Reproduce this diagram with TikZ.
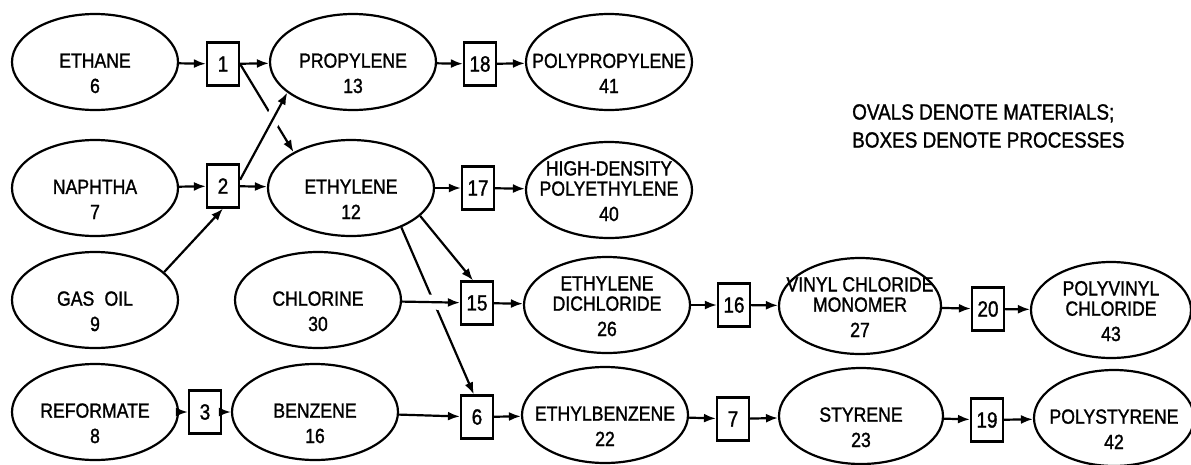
\documentclass[tikz,border=0pt]{standalone}
\usepackage{fontspec}
\setmainfont{Liberation Sans}[FakeStretch=0.86, FakeBold=1.3]
\usetikzlibrary{shapes.geometric,arrows.meta}
\tikzset{
  matl/.style = {draw, ellipse, line width=2.2pt,
    minimum width=166pt, minimum height=96pt, inner sep=0pt,
    font=\fontsize{20.5}{20}\selectfont},
  proc/.style = {draw, line width=2.2pt, minimum width=32pt,
    minimum height=43pt, inner sep=0pt, font=\fontsize{22}{20}\selectfont},
  flow/.style = {line width=2.2pt, -{Latex[length=12pt,width=9pt]}},
  gap/.style 2 args = {preaction={draw=white, -, line width=15pt,
    shorten <=#1, shorten >=#2}}, % white gap where a line passes behind
  legend/.style = {align=left, inner sep=0pt, font=\fontsize{22}{28}\selectfont}
}
% name lines above, number below the centre of the oval
\newcommand{\mtext}[2]{\smash{\makebox[0pt]{\raisebox{-31pt}{%
  \begin{tabular}[b]{@{}c@{}}#1\\[5pt]#2\end{tabular}}}}}

\begin{document}
\begin{tikzpicture}[x=1pt, y=-1pt]
\useasboundingbox (0,0) rectangle (1191,464);
% feedstocks
\node[matl] (ethane)    at (95,62)  {\mtext{ETHANE}{6}};
\node[matl] (naphtha)   at (95,188) {\mtext{NAPHTHA}{7}};
\node[matl] (gasoil)    at (95,300) {\mtext{GAS\enspace OIL}{9}};
\node[matl] (reformate) at (95,412) {\mtext{REFORMATE}{8}};
% intermediates
\node[matl] (propylene) at (353,62)  {\mtext{PROPYLENE}{13}};
\node[matl] (ethylene)  at (351,188) {\mtext{ETHYLENE}{12}};
\node[matl] (chlorine)  at (318,300) {\mtext{CHLORINE}{30}};
\node[matl] (benzene)   at (315,412) {\mtext{BENZENE}{16}};
\node[matl] (edc)       at (607,305) {\mtext{ETHYLENE\\DICHLORIDE}{26}};
\node[matl] (ebenz)     at (605,415) {\mtext{ETHYLBENZENE}{22}};
\node[matl, minimum width=162pt] (vcm)     at (860,306) {\mtext{VINYL CHLORIDE\\MONOMER}{27}};
\node[matl, minimum width=164pt] (styrene) at (861,416) {\mtext{STYRENE}{23}};
% polymers
\node[matl] (pp)   at (609,62)  {\mtext{POLYPROPYLENE}{41}};
\node[matl] (hdpe) at (609,190) {\mtext{HIGH-DENSITY\\POLYETHYLENE}{40}};
\node[matl, minimum width=160pt] (pvc) at (1111,310) {\mtext{POLYVINYL\\CHLORIDE}{43}};
\node[matl, minimum width=160pt] (ps)  at (1114,418) {\mtext{POLYSTYRENE}{42}};
% processes
\node[proc] (p1)  at (223,64)  {1};
\node[proc] (p2)  at (223,186) {2};
\node[proc] (p3)  at (205,412) {3};
\node[proc] (p18) at (480,64)  {18};
\node[proc] (p17) at (478,188) {17};
\node[proc] (p15) at (477,303) {15};
\node[proc] (p6)  at (477,417) {6};
\node[proc] (p16) at (734,305) {16};
\node[proc] (p7)  at (733,419) {7};
\node[proc] (p20) at (988,309) {20};
\node[proc] (p19) at (987,420) {19};

\node[legend, anchor=north west] (note) at (852,104)
  {OVALS DENOTE MATERIALS;\\BOXES DENOTE PROCESSES};

% cracking
\draw[flow] (ethane) -- (p1);
\draw[flow] (p1) -- (propylene);
\draw[flow] (p1.east) -- (ethylene.148);
\draw[flow, gap={55pt}{15pt}] (p2.20) -- (propylene.205);
\draw[flow] (naphtha) -- (p2);
\draw[flow] (p2) -- (ethylene);
\draw[flow] (gasoil.22) -- (p2.south);
\draw[flow] (reformate) -- (p3);
\draw[flow] (p3) -- (benzene);
% polymers
\draw[flow] (propylene) -- (p18);
\draw[flow] (p18) -- (pp);
\draw[flow] (ethylene) -- (p17);
\draw[flow] (p17) -- (hdpe);
% vinyl chloride chain
\draw[flow] (ethylene.338) -- (p15.100);
\draw[flow] (ethylene.322) -- (p6.98);
\draw[flow, gap={22pt}{18pt}] (chlorine) -- (p15);
\draw[flow] (p15) -- (edc);
\draw[flow] (edc) -- (p16);
\draw[flow] (p16) -- (vcm);
\draw[flow] (vcm) -- (p20);
\draw[flow] (p20) -- (pvc);
% styrene chain
\draw[flow] (benzene) -- (p6);
\draw[flow] (p6) -- (ebenz);
\draw[flow] (ebenz) -- (p7);
\draw[flow] (p7) -- (styrene);
\draw[flow] (styrene) -- (p19);
\draw[flow] (p19) -- (ps);
\end{tikzpicture}
\end{document}
